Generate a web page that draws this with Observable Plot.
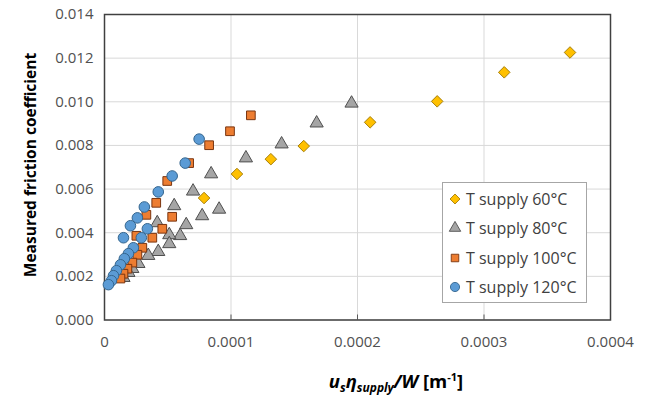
<!DOCTYPE html>
<html>
<head>
<meta charset="utf-8">
<script src="https://cdn.jsdelivr.net/npm/d3@7"></script>
<script src="https://cdn.jsdelivr.net/npm/@observablehq/plot@0.6"></script>
<style>
  html, body { margin: 0; padding: 0; background: #fff; }
  #wrap { position: relative; width: 646px; height: 395px; font-family: "Open Sans", sans-serif; }
  #ytitle { position: absolute; left: 30px; top: 165px; transform: translate(-50%, -50%) rotate(-90deg); white-space: nowrap; font-weight: bold; font-size: 15.5px; color: #000; }
  #xtitle { position: absolute; left: 396px; top: 382px; transform: translate(-50%, -50%); white-space: nowrap; font-weight: bold; font-size: 18.5px; color: #000; }
  #xtitle sub { font-size: 12px; }
  #xtitle sup { font-size: 11px; }
  #legend { position: absolute; left: 442px; top: 182px; width: 145px; height: 121px; border: 1px solid #a6a6a6; background: #fff; box-sizing: border-box; padding: 1px 0 0 5px; }
  .row { display: flex; align-items: center; height: 29.5px; font-size: 16px; color: #404040; }
  .row svg { margin-right: 4px; }
</style>
</head>
<body>
<div id="wrap"></div>
<script>
// ---- data ----
const seriesNames = ["T supply 60°C", "T supply 80°C", "T supply 100°C", "T supply 120°C"];

const x60 = [0.000368, 0.000316, 0.000263, 0.000210, 0.0001575, 0.0001315, 0.0001047, 0.0000787];
const y60 = [0.01226, 0.01135, 0.01002, 0.00906, 0.00797, 0.00737, 0.00669, 0.00559];

const x80 = [0.0001953, 0.0001677, 0.000140, 0.0001118, 0.0000843, 0.0000700, 0.0000906, 0.0000772, 0.0000551, 0.0000646,
             0.0000598, 0.0000512, 0.0000417, 0.0000512, 0.0000425, 0.0000346, 0.0000268, 0.0000220, 0.0000189, 0.0000150];
const y80 = [0.00993, 0.00902, 0.00806, 0.00742, 0.00669, 0.00590, 0.00507, 0.00477, 0.00523, 0.00436,
             0.00386, 0.00390, 0.00445, 0.00349, 0.00313, 0.00295, 0.00258, 0.00235, 0.00217, 0.00194];

const x100 = [0.0001157, 0.0000992, 0.0000827, 0.0000669, 0.0000496, 0.0000409, 0.0000331, 0.0000535, 0.0000457,
              0.0000378, 0.0000252, 0.0000299, 0.0000260, 0.0000220, 0.0000181, 0.0000150, 0.0000126];
const y100 = [0.00938, 0.00865, 0.00801, 0.00719, 0.00637, 0.00537, 0.00482, 0.00473, 0.00418,
              0.00377, 0.00386, 0.00331, 0.00299, 0.00263, 0.00235, 0.00212, 0.00190];

const x120 = [0.0000748, 0.0000638, 0.0000535, 0.0000425, 0.0000315, 0.0000260, 0.0000205, 0.0000150, 0.0000339,
              0.0000291, 0.0000228, 0.0000189, 0.0000157, 0.0000126, 0.0000094, 0.0000071, 0.0000055, 0.0000031];
const y120 = [0.00829, 0.00719, 0.00660, 0.00587, 0.00518, 0.00468, 0.00432, 0.00377, 0.00418,
              0.00377, 0.00331, 0.00304, 0.00281, 0.00253, 0.00226, 0.00203, 0.00180, 0.00162];

const xTicks = [0, 0.0001, 0.0002, 0.0003, 0.0004];
const xTickLabels = ["0", "0.0001", "0.0002", "0.0003", "0.0004"];
const yTicks = [0, 0.002, 0.004, 0.006, 0.008, 0.010, 0.012, 0.014];
const yTickLabels = ["0.000", "0.002", "0.004", "0.006", "0.008", "0.010", "0.012", "0.014"];

// ---- styles ----
const styles = [
  {symbol: "diamond2", r: 5.2, fill: "#FFC000", stroke: "#A67F0A"},
  {symbol: "triangle", r: 4.9, fill: "#A5A5A5", stroke: "#4f4f4f"},
  {symbol: "square",   r: 4.9, fill: "#ED7D31", stroke: "#7a3510"},
  {symbol: "circle",   r: 5.3, fill: "#5B9BD5", stroke: "#35668f"}
];
const xs = [x60, x80, x100, x120];
const ys = [y60, y80, y100, y120];

const dotMarks = xs.map((xa, k) =>
  Plot.dot(d3.range(xa.length), {
    x: i => xa[i], y: i => ys[k][i],
    symbol: styles[k].symbol, r: styles[k].r,
    fill: styles[k].fill, stroke: styles[k].stroke, strokeWidth: 1
  })
);

const chart = Plot.plot({
  width: 646, height: 395,
  marginLeft: 104, marginRight: 36, marginTop: 14, marginBottom: 75.5,
  x: {domain: [0, 0.0004]},
  y: {domain: [0, 0.014]},
  style: {fontFamily: "Open Sans, sans-serif", fontSize: "15px", color: "#595959", background: "#fff", overflow: "visible"},
  marks: [
    Plot.gridX(xTicks, {stroke: "#d9d9d9", strokeOpacity: 1, strokeWidth: 1}),
    Plot.gridY(yTicks, {stroke: "#d9d9d9", strokeOpacity: 1, strokeWidth: 1}),
    Plot.axisX(xTicks, {tickSize: 0, tickPadding: 16, tickFormat: d => xTickLabels[xTicks.indexOf(d)], label: null, fill: "#505050"}),
    Plot.axisX(xTicks, {tickSize: -5, tickFormat: () => "", label: null, stroke: "#595959"}),
    Plot.axisY(yTicks, {tickSize: 0, tickPadding: 11, tickFormat: d => yTickLabels[yTicks.indexOf(d)], label: null, fill: "#505050"}),
    Plot.frame({stroke: "#404040", strokeWidth: 1.5}),
    ...dotMarks
  ]
});

const wrap = document.getElementById("wrap");
wrap.appendChild(chart);

const yt = document.createElement("div");
yt.id = "ytitle";
yt.textContent = "Measured friction coefficient";
wrap.appendChild(yt);

const xt = document.createElement("div");
xt.id = "xtitle";
xt.innerHTML = "<i>u<sub>s</sub>η<sub>supply</sub>/W</i> [m<sup>-1</sup>]";
wrap.appendChild(xt);

// legend
const lg = document.createElement("div");
lg.id = "legend";
seriesNames.forEach((name, k) => {
  const row = document.createElement("div");
  row.className = "row";
  const s = styles[k];
  const sym = d3.symbol(
    {diamond2: d3.symbolDiamond2, triangle: d3.symbolTriangle, square: d3.symbolSquare, circle: d3.symbolCircle}[s.symbol],
    Math.PI * s.r * s.r * 0.75
  )();
  row.innerHTML = `<svg width="14" height="14" viewBox="-7 -7 14 14"><path d="${sym}" fill="${s.fill}" stroke="${s.stroke}" stroke-width="0.9"/></svg><span>${name}</span>`;
  lg.appendChild(row);
});
wrap.appendChild(lg);
</script>
</body>
</html>
